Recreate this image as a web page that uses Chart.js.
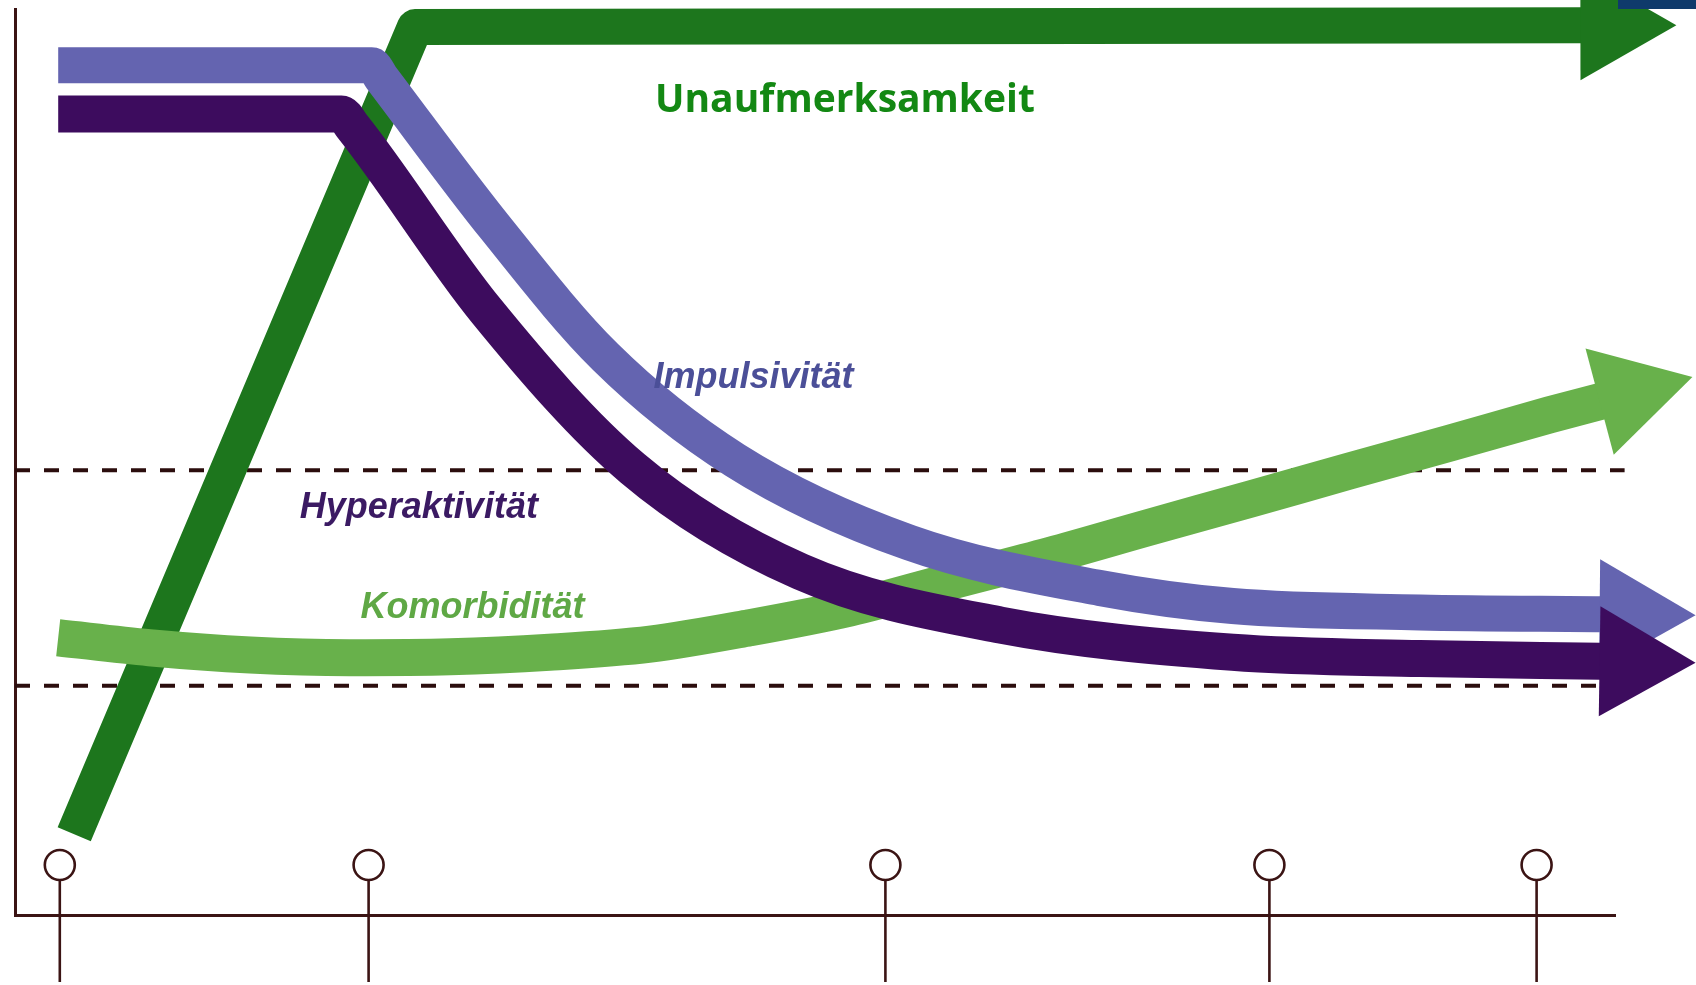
<!DOCTYPE html>
<html>
<head>
<meta charset="utf-8">
<title>Symptomverlauf ADHS</title>
<script src="https://cdn.jsdelivr.net/npm/chart.js@4.4.1/dist/chart.umd.min.js"></script>
<style>
  html, body { margin: 0; padding: 0; background: #fff; }
  #wrap { position: relative; width: 1696px; height: 985px; overflow: hidden; }
  #corner { position: absolute; top: 0; right: 0; width: 78px; height: 9px; background: #0f3a6b; }
</style>
</head>
<body>
<div id="wrap">
  <canvas id="chart" width="1696" height="985"></canvas>
  <div id="corner"></div>
</div>
<script>
// values: x = time, y = symptom level (both 0-100)
const seriesNames = ['Unaufmerksamkeit', 'Impulsivität', 'Hyperaktivität', 'Komorbidität'];

const inattX = [3.7, 25.0, 97.9];
const inattY = [8.9, 98.0, 98.2];

const impX = [2.7, 22.3, 22.9, 30.0, 36.9, 45.0, 55.9, 67.8, 76.1, 87.8, 99.1];
const impY = [93.8, 93.8, 92.4, 75.9, 61.6, 50.2, 41.1, 36.1, 34.1, 33.4, 33.2];

const hypX = [2.7, 20.4, 21.1, 29.4, 38.6, 49.1, 61.6, 76.1, 87.8, 99.1];
const hypY = [88.4, 88.4, 87.0, 66.8, 49.3, 37.9, 32.0, 29.0, 28.3, 28.0];

const comX = [2.7, 8.4, 14.7, 20.9, 27.2, 33.4, 39.7, 45.9, 52.2, 58.4, 64.7, 70.9, 77.2, 83.4, 89.7, 95.9, 99.1];
const comY = [30.6, 29.5, 28.7, 28.4, 28.5, 29.0, 29.9, 31.7, 33.9, 36.8, 39.7, 42.8, 45.9, 49.0, 52.1, 55.2, 56.7];

const thresholds = [49.1, 25.3];
const thresholdEnd = 100.6;
const timePoints = [2.8, 22.1, 54.4, 78.4, 95.1];

const axisColor = '#3b1414';
const lineColors = {
  inatt: '#1d761d',
  imp: '#6464b0',
  hyp: '#3d0c5e',
  com: '#68b14b'
};

// where the series names sit (data units) and how they look
const labelStyles = [
  { text: seriesNames[0], x: 40.0, y: 88.6, color: '#138813', font: 'bold 39px "Open Sans"' },
  { text: seriesNames[1], x: 39.9, y: 58.2, color: '#4b4f98', font: 'italic bold 36px "Liberation Sans"' },
  { text: seriesNames[2], x: 17.8, y: 43.8, color: '#3b1a63', font: 'italic bold 36px "Liberation Sans"' },
  { text: seriesNames[3], x: 21.6, y: 32.8, color: '#5fa845', font: 'italic bold 36px "Liberation Sans"' }
];

const toPoints = (xs, ys) => xs.map((x, i) => ({ x: x, y: ys[i] }));

const arrowHeads = {
  id: 'arrowHeads',
  afterDatasetDraw(chart, args) {
    const ds = chart.data.datasets[args.index];
    if (!ds.arrow) return;
    const pts = args.meta.data;
    const a = pts[pts.length - 2];
    const b = pts[pts.length - 1];
    const len = Math.hypot(b.x - a.x, b.y - a.y);
    const ux = (b.x - a.x) / len;
    const uy = (b.y - a.y) / len;
    const L = 95, W = 55;
    const bx = b.x - ux, by = b.y - uy;
    const ctx = chart.ctx;
    ctx.save();
    ctx.fillStyle = ds.borderColor;
    ctx.beginPath();
    ctx.moveTo(bx - uy * W, by + ux * W);
    ctx.lineTo(b.x + ux * L, b.y + uy * L);
    ctx.lineTo(bx + uy * W, by - ux * W);
    ctx.closePath();
    ctx.fill();
    ctx.restore();
  }
};

const timeMarks = {
  id: 'timeMarks',
  beforeDatasetsDraw(chart) {
    const { ctx, chartArea, scales: { x } } = chart;
    const axisY = chartArea.bottom;
    ctx.save();
    ctx.strokeStyle = axisColor;
    ctx.lineWidth = 2.6;
    timePoints.forEach(v => {
      const px = x.getPixelForValue(v);
      ctx.beginPath();
      ctx.arc(px, axisY - 50, 15, 0, Math.PI * 2);
      ctx.stroke();
      ctx.beginPath();
      ctx.moveTo(px, axisY - 35);
      ctx.lineTo(px, axisY + 67);
      ctx.stroke();
    });
    ctx.restore();
  }
};

const seriesLabels = {
  id: 'seriesLabels',
  afterDatasetsDraw(chart) {
    const { ctx, scales: { x, y } } = chart;
    ctx.save();
    ctx.textAlign = 'left';
    ctx.textBaseline = 'alphabetic';
    labelStyles.forEach(l => {
      ctx.font = l.font;
      ctx.fillStyle = l.color;
      ctx.fillText(l.text, x.getPixelForValue(l.x), y.getPixelForValue(l.y));
    });
    ctx.restore();
  }
};

const plainAxis = {
  type: 'linear',
  min: 0,
  max: 100,
  grid: { display: false, drawTicks: false },
  ticks: { display: false },
  border: { display: true, color: axisColor, width: 3 }
};

new Chart(document.getElementById('chart'), {
  type: 'line',
  data: {
    datasets: [
      {
        label: seriesNames[2],
        data: toPoints(hypX, hypY),
        borderColor: lineColors.hyp,
        borderWidth: 37,
        borderJoinStyle: 'miter',
        cubicInterpolationMode: 'monotone',
        arrow: true,
        order: 1
      },
      {
        label: seriesNames[1],
        data: toPoints(impX, impY),
        borderColor: lineColors.imp,
        borderWidth: 36,
        borderJoinStyle: 'miter',
        cubicInterpolationMode: 'monotone',
        arrow: true,
        order: 2
      },
      {
        label: seriesNames[3],
        data: toPoints(comX, comY),
        borderColor: lineColors.com,
        borderWidth: 37,
        cubicInterpolationMode: 'monotone',
        arrow: true,
        order: 3
      },
      {
        label: seriesNames[0],
        data: toPoints(inattX, inattY),
        borderColor: lineColors.inatt,
        borderWidth: 36,
        borderJoinStyle: 'round',
        tension: 0,
        arrow: true,
        order: 4
      },
      {
        label: 'Grenze oben',
        data: [{ x: 0, y: thresholds[0] }, { x: thresholdEnd, y: thresholds[0] }],
        borderColor: '#2b0d0d',
        borderWidth: 4,
        borderDash: [15, 14],
        order: 5
      },
      {
        label: 'Grenze unten',
        data: [{ x: 0, y: thresholds[1] }, { x: thresholdEnd, y: thresholds[1] }],
        borderColor: '#2b0d0d',
        borderWidth: 4,
        borderDash: [15, 14],
        order: 6
      }
    ]
  },
  options: {
    responsive: false,
    animation: false,
    devicePixelRatio: 1,
    clip: false,
    elements: {
      point: { radius: 0, hoverRadius: 0 },
      line: { fill: false, borderCapStyle: 'butt' }
    },
    layout: {
      padding: { left: 15, right: 81, top: 9, bottom: 70 }
    },
    plugins: {
      legend: { display: false },
      tooltip: { enabled: false }
    },
    scales: {
      x: plainAxis,
      y: plainAxis
    }
  },
  plugins: [timeMarks, arrowHeads, seriesLabels]
});
</script>
</body>
</html>
